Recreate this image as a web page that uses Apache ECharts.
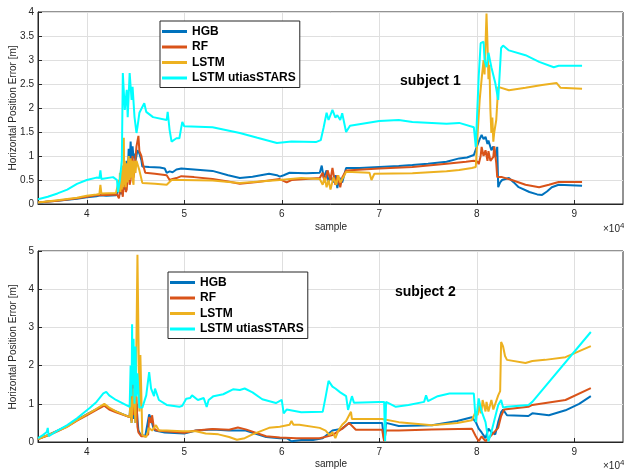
<!DOCTYPE html>
<html><head><meta charset="utf-8">
<script src="https://cdn.jsdelivr.net/npm/echarts@6/dist/echarts.min.js"></script>
<style>html,body{margin:0;padding:0;background:#fff}#c{width:624px;height:472px}</style>
</head><body><div id="c"></div>
<script>
// x in units of 10^4 samples
const seriesNames = ['HGB', 'RF', 'LSTM', 'LSTM utiasSTARS'];
const seriesColors = ['#0072BD', '#D95319', '#EDB120', '#00FFFF'];
const xTickValues = [4, 5, 6, 7, 8, 9];
const yTicksTop = [0, 0.5, 1, 1.5, 2, 2.5, 3, 3.5, 4];
const yTicksBottom = [0, 1, 2, 3, 4, 5];
const panelTitles = ['subject 1', 'subject 2'];

// ---- subject 1 ----
const s1HGB = [[3.5,0.02],[3.6,0.05],[3.7,0.07],[3.8,0.09],[3.9,0.11],[4.0,0.14],[4.1,0.16],[4.14,0.18],[4.2,0.17],[4.3,0.18],[4.32,0.15],[4.34,0.35],[4.35,0.2],[4.36,0.45],[4.37,0.25],[4.38,0.6],[4.39,0.3],[4.40,0.7],[4.405,0.4],[4.41,0.9],[4.42,0.55],[4.43,1.15],[4.44,0.8],[4.45,1.3],[4.46,0.9],[4.47,1.2],[4.48,0.95],[4.49,1.05],[4.50,0.9],[4.52,1.12],[4.54,1.05],[4.56,0.92],[4.57,0.78],[4.64,0.77],[4.75,0.76],[4.80,0.74],[4.82,0.65],[4.85,0.68],[4.88,0.66],[4.92,0.72],[4.97,0.74],[5.1,0.72],[5.29,0.69],[5.45,0.6],[5.57,0.54],[5.7,0.57],[5.87,0.63],[5.95,0.6],[5.98,0.57],[6.02,0.6],[6.08,0.65],[6.25,0.64],[6.39,0.65],[6.41,0.8],[6.43,0.55],[6.46,0.7],[6.48,0.45],[6.5,0.6],[6.53,0.45],[6.55,0.6],[6.57,0.33],[6.59,0.55],[6.62,0.45],[6.64,0.6],[6.66,0.75],[6.8,0.75],[7.0,0.77],[7.2,0.79],[7.34,0.81],[7.5,0.84],[7.69,0.88],[7.82,0.95],[7.9,0.97],[7.97,1.02],[8.0,1.19],[8.03,1.35],[8.05,1.44],[8.07,1.35],[8.09,1.40],[8.11,1.25],[8.12,1.32],[8.15,1.12],[8.17,1.2],[8.19,0.98],[8.21,1.19],[8.22,0.35],[8.24,0.45],[8.26,0.5],[8.33,0.54],[8.38,0.45],[8.43,0.35],[8.54,0.25],[8.62,0.2],[8.67,0.19],[8.72,0.26],[8.77,0.35],[8.84,0.40],[9.08,0.38]];
const s1RF = [[3.5,0.03],[3.7,0.07],[3.9,0.12],[4.0,0.15],[4.1,0.18],[4.2,0.19],[4.31,0.2],[4.33,0.12],[4.35,0.4],[4.37,0.15],[4.38,0.5],[4.39,0.7],[4.40,0.25],[4.41,0.3],[4.42,0.6],[4.43,0.9],[4.44,0.4],[4.45,0.5],[4.46,0.85],[4.47,1.0],[4.48,0.55],[4.49,0.7],[4.51,1.2],[4.53,1.42],[4.54,1.1],[4.56,1.0],[4.58,0.8],[4.6,0.65],[4.7,0.63],[4.82,0.6],[4.85,0.5],[4.88,0.52],[4.92,0.54],[4.97,0.58],[5.1,0.56],[5.29,0.52],[5.45,0.47],[5.57,0.42],[5.75,0.46],[5.98,0.52],[6.05,0.45],[6.1,0.5],[6.39,0.54],[6.42,0.65],[6.44,0.45],[6.47,0.7],[6.5,0.5],[6.52,0.75],[6.55,0.4],[6.57,0.6],[6.6,0.35],[6.62,0.55],[6.66,0.7],[7.0,0.74],[7.34,0.77],[7.69,0.84],[7.89,0.88],[7.97,0.9],[8.01,0.88],[8.02,0.83],[8.04,1.0],[8.05,1.19],[8.07,1.0],[8.09,1.12],[8.11,0.9],[8.12,1.1],[8.14,0.9],[8.17,0.98],[8.18,1.2],[8.2,0.85],[8.21,0.56],[8.26,0.56],[8.36,0.5],[8.5,0.4],[8.64,0.35],[8.74,0.4],[8.84,0.46],[9.08,0.46]];
const s1LSTM = [[3.5,0.03],[3.7,0.08],[3.9,0.13],[4.0,0.17],[4.1,0.2],[4.13,0.21],[4.14,0.4],[4.15,0.22],[4.3,0.23],[4.32,0.2],[4.33,0.5],[4.335,0.3],[4.34,0.65],[4.345,0.25],[4.35,0.7],[4.355,0.4],[4.36,0.3],[4.365,0.75],[4.37,0.8],[4.375,0.35],[4.38,1.38],[4.385,0.4],[4.39,0.9],[4.395,0.55],[4.40,0.35],[4.405,0.75],[4.41,0.85],[4.415,0.5],[4.42,0.45],[4.425,0.9],[4.43,1.0],[4.435,0.6],[4.44,0.5],[4.445,0.8],[4.45,0.95],[4.455,0.55],[4.46,0.6],[4.465,0.9],[4.47,0.85],[4.475,0.45],[4.48,0.4],[4.485,0.8],[4.49,0.9],[4.5,0.65],[4.51,0.9],[4.54,0.7],[4.57,0.44],[4.7,0.42],[4.82,0.4],[4.87,0.5],[4.97,0.5],[5.29,0.49],[5.57,0.44],[5.98,0.5],[6.2,0.54],[6.39,0.52],[6.42,0.4],[6.44,0.55],[6.46,0.35],[6.48,0.5],[6.5,0.3],[6.53,0.55],[6.56,0.4],[6.58,0.6],[6.6,0.45],[6.63,0.55],[6.66,0.67],[6.9,0.65],[6.92,0.5],[6.95,0.63],[7.34,0.64],[7.69,0.68],[7.82,0.71],[7.95,0.75],[7.99,0.77],[8.01,1.5],[8.03,2.17],[8.05,2.6],[8.07,3.0],[8.08,2.7],[8.1,3.97],[8.11,3.35],[8.12,2.6],[8.13,2.9],[8.14,1.96],[8.15,1.48],[8.16,1.8],[8.17,1.3],[8.18,1.5],[8.2,1.75],[8.22,2.44],[8.24,2.42],[8.33,2.37],[8.5,2.42],[8.67,2.48],[8.82,2.52],[8.86,2.42],[9.08,2.4]];
const s1STARS = [[3.5,0.1],[3.6,0.15],[3.7,0.22],[3.8,0.3],[3.9,0.42],[4.0,0.5],[4.1,0.55],[4.13,0.54],[4.14,0.7],[4.15,0.52],[4.27,0.56],[4.31,0.5],[4.32,0.25],[4.34,0.5],[4.36,0.92],[4.37,2.73],[4.39,1.96],[4.41,2.38],[4.42,1.81],[4.44,2.73],[4.46,2.17],[4.47,2.44],[4.49,1.81],[4.51,1.48],[4.52,1.6],[4.54,1.9],[4.57,2.02],[4.59,2.1],[4.61,1.92],[4.68,1.81],[4.82,1.75],[4.83,1.92],[4.85,1.54],[4.87,1.3],[4.92,1.37],[4.95,1.37],[4.97,1.6],[4.98,1.71],[5.0,1.62],[5.29,1.6],[5.57,1.48],[5.75,1.38],[5.95,1.27],[6.1,1.3],[6.35,1.29],[6.4,1.33],[6.43,1.6],[6.46,1.9],[6.48,1.75],[6.52,1.96],[6.55,1.8],[6.57,1.85],[6.6,1.75],[6.62,1.89],[6.66,1.5],[6.7,1.63],[7.0,1.73],[7.2,1.75],[7.34,1.71],[7.69,1.67],[7.82,1.69],[7.97,1.6],[7.99,1.19],[8.02,2.65],[8.04,3.35],[8.07,3.38],[8.08,3.0],[8.1,2.85],[8.12,3.15],[8.15,2.85],[8.19,2.52],[8.22,2.17],[8.25,3.25],[8.27,3.3],[8.33,3.2],[8.5,3.1],[8.64,2.96],[8.79,2.85],[8.84,2.88],[9.08,2.88]];

// ---- subject 2 ----
const s2HGB = [[3.5,0.08],[3.6,0.18],[3.7,0.3],[3.8,0.42],[3.9,0.58],[4.0,0.72],[4.1,0.86],[4.18,0.97],[4.2,0.95],[4.23,0.87],[4.3,0.8],[4.44,0.65],[4.45,1.2],[4.46,0.5],[4.47,1.8],[4.48,0.6],[4.49,1.4],[4.5,0.5],[4.51,1.0],[4.52,0.6],[4.53,0.3],[4.55,0.2],[4.57,0.15],[4.6,0.15],[4.62,0.2],[4.64,0.72],[4.66,0.6],[4.68,0.4],[4.7,0.3],[4.8,0.25],[5.0,0.22],[5.12,0.3],[5.29,0.33],[5.46,0.3],[5.63,0.3],[5.84,0.13],[5.98,0.1],[6.05,0.1],[6.1,0.02],[6.2,0.05],[6.32,0.05],[6.42,0.1],[6.52,0.3],[6.62,0.35],[6.69,0.5],[6.76,0.5],[7.03,0.5],[7.05,0.05],[7.07,0.5],[7.2,0.42],[7.54,0.44],[7.8,0.55],[7.95,0.65],[7.99,0.52],[8.02,0.35],[8.05,0.25],[8.09,0.1],[8.12,0.35],[8.15,0.26],[8.19,0.2],[8.22,0.52],[8.25,0.78],[8.27,0.85],[8.31,0.7],[8.53,0.68],[8.57,0.75],[8.74,0.7],[8.91,0.83],[9.05,1.0],[9.17,1.2]];
const s2RF = [[3.5,0.08],[3.6,0.17],[3.7,0.28],[3.8,0.4],[3.9,0.56],[4.0,0.7],[4.1,0.84],[4.18,0.95],[4.2,0.93],[4.23,0.85],[4.3,0.78],[4.44,0.65],[4.45,1.0],[4.46,0.55],[4.47,1.9],[4.48,0.7],[4.49,1.5],[4.5,0.6],[4.51,1.2],[4.52,0.4],[4.53,0.25],[4.56,0.15],[4.6,0.15],[4.63,0.2],[4.64,0.65],[4.66,0.5],[4.67,0.7],[4.69,0.35],[4.72,0.3],[4.8,0.28],[5.0,0.24],[5.12,0.3],[5.29,0.34],[5.46,0.32],[5.55,0.38],[5.63,0.33],[5.84,0.15],[5.98,0.12],[6.15,0.1],[6.3,0.1],[6.39,0.1],[6.52,0.18],[6.62,0.35],[6.69,0.5],[6.76,0.32],[7.03,0.32],[7.05,0.02],[7.07,0.3],[7.2,0.3],[7.54,0.33],[7.95,0.35],[7.99,0.15],[8.02,0.02],[8.05,0.15],[8.09,0.02],[8.14,0.15],[8.22,0.37],[8.25,0.68],[8.28,0.85],[8.53,0.92],[8.57,0.97],[8.91,1.1],[9.17,1.41]];
const s2LSTM = [[3.5,0.08],[3.6,0.18],[3.7,0.29],[3.8,0.4],[3.9,0.57],[4.0,0.72],[4.1,0.87],[4.18,1.0],[4.2,1.02],[4.23,0.9],[4.3,0.8],[4.44,0.65],[4.45,1.25],[4.46,0.5],[4.48,1.4],[4.5,0.5],[4.52,4.9],[4.53,4.9],[4.54,0.8],[4.55,2.28],[4.57,0.18],[4.61,0.13],[4.64,0.37],[4.67,0.3],[4.71,0.44],[4.74,0.3],[4.82,0.3],[4.98,0.28],[5.12,0.28],[5.22,0.22],[5.35,0.2],[5.46,0.13],[5.54,0.06],[5.62,0.1],[5.7,0.2],[5.87,0.37],[5.98,0.4],[6.08,0.45],[6.1,0.55],[6.12,0.45],[6.18,0.45],[6.39,0.37],[6.45,0.3],[6.49,0.18],[6.52,0.26],[6.55,0.1],[6.58,0.3],[6.62,0.45],[6.66,0.55],[6.71,0.79],[6.72,0.6],[6.86,0.6],[7.03,0.6],[7.2,0.52],[7.54,0.44],[7.8,0.5],[7.95,0.57],[7.99,0.8],[8.01,0.7],[8.02,1.0],[8.03,0.96],[8.04,0.75],[8.05,0.85],[8.06,1.1],[8.07,1.14],[8.08,0.9],[8.09,0.8],[8.1,1.05],[8.11,1.0],[8.12,0.8],[8.13,0.85],[8.15,1.1],[8.16,1.05],[8.17,0.85],[8.19,0.9],[8.22,1.22],[8.24,1.33],[8.25,2.62],[8.27,2.5],[8.29,2.25],[8.31,2.15],[8.5,2.07],[8.57,2.12],[8.7,2.15],[8.91,2.22],[9.17,2.51]];
const s2STARS = [[3.5,0.1],[3.55,0.18],[3.59,0.26],[3.6,0.37],[3.61,0.15],[3.7,0.3],[3.8,0.44],[3.9,0.62],[4.03,0.89],[4.1,1.05],[4.17,1.27],[4.2,1.31],[4.23,1.22],[4.3,1.1],[4.44,0.92],[4.45,2.0],[4.46,1.2],[4.465,3.08],[4.47,1.5],[4.48,2.7],[4.49,1.0],[4.5,2.5],[4.51,1.2],[4.52,1.8],[4.54,0.9],[4.57,0.9],[4.61,1.22],[4.64,1.83],[4.66,1.4],[4.69,1.2],[4.7,1.4],[4.72,1.25],[4.74,1.1],[4.82,0.97],[4.95,0.92],[4.98,0.95],[5.02,1.13],[5.06,1.15],[5.08,1.22],[5.14,1.1],[5.2,1.15],[5.23,0.92],[5.25,1.1],[5.3,1.2],[5.4,1.25],[5.5,1.38],[5.57,1.36],[5.62,1.4],[5.7,1.3],[5.8,1.12],[5.94,1.02],[6.0,1.1],[6.02,0.75],[6.05,0.85],[6.07,0.8],[6.2,0.78],[6.42,0.79],[6.45,1.18],[6.48,1.6],[6.52,1.45],[6.55,1.4],[6.6,1.3],[6.66,1.2],[6.68,0.84],[6.72,1.2],[6.74,1.03],[7.0,1.05],[7.05,1.05],[7.06,0.02],[7.07,1.05],[7.17,0.92],[7.3,0.97],[7.46,1.05],[7.48,1.22],[7.5,1.07],[7.6,1.2],[7.72,1.27],[7.97,1.27],[7.99,0.52],[8.02,1.14],[8.05,0.8],[8.09,0.52],[8.12,0.02],[8.15,0.26],[8.22,0.97],[8.25,1.1],[8.27,0.9],[8.31,0.92],[8.53,0.97],[8.57,1.05],[9.17,2.88]];

const panels = [
  { data: [s1HGB, s1RF, s1LSTM, s1STARS], yTicks: yTicksTop },
  { data: [s2HGB, s2RF, s2LSTM, s2STARS], yTicks: yTicksBottom }
];

const AX = '#262626', GRIDC = '#dfdfdf', FONT = 'Liberation Sans, Arial, Helvetica, sans-serif';
const grids = [
  { left: 38, top: 12, width: 585, height: 192 },
  { left: 38, top: 251, width: 585, height: 191 }
];
const xTicksSamples = xTickValues.map(v => v * 1e4);

const option = {
  animation: false,
  backgroundColor: '#fff',
  grid: grids.map(g => Object.assign({ show: true, borderColor: AX, borderWidth: 1, backgroundColor: '#fff' }, g)),
  xAxis: [],
  yAxis: [],
  legend: [],
  series: [],
  graphic: []
};

panels.forEach((p, i) => {
  option.xAxis.push({
    type: 'value', gridIndex: i, min: 35000, max: 95000,
    axisLine: { show: true, onZero: false, lineStyle: { color: AX, width: 1 } },
    axisTick: { show: true, inside: true, length: 4, customValues: xTicksSamples, lineStyle: { color: AX } },
    axisLabel: { customValues: xTicksSamples, formatter: v => String(Math.round(v / 1e4)), color: AX, fontSize: 10, fontFamily: FONT, margin: 5 },
    splitLine: { show: true, lineStyle: { color: GRIDC, width: 1 } }
  });
  const yt = p.yTicks;
  option.yAxis.push({
    type: 'value', gridIndex: i, min: yt[0], max: yt[yt.length - 1], interval: yt[1] - yt[0],
    axisLine: { show: true, lineStyle: { color: AX, width: 1 } },
    axisTick: { show: true, inside: true, length: 4, lineStyle: { color: AX } },
    axisLabel: { color: AX, fontSize: 10, fontFamily: FONT, margin: 4, formatter: v => String(v) },
    splitLine: { show: true, lineStyle: { color: GRIDC, width: 1 } }
  });
  p.data.forEach((arr, k) => {
    option.series.push({
      name: seriesNames[k], type: 'line', xAxisIndex: i, yAxisIndex: i,
      data: arr.map(([x, y]) => [x * 1e4, y]),
      symbol: 'none', showSymbol: false,
      lineStyle: { color: seriesColors[k], width: 2 },
      itemStyle: { color: seriesColors[k] },
      z: 2 + k
    });
  });
});

const legendPos = [{ left: 160, top: 21 }, { left: 168, top: 272 }];
legendPos.forEach((pos, i) => {
  option.legend.push(Object.assign({
    orient: 'vertical',
    data: seriesNames.map(n => ({ name: n, icon: 'rect' })),
    itemWidth: 25, itemHeight: 3, itemGap: 0.5,
    padding: [3, 4, 2, 2],
    backgroundColor: '#fff', borderColor: AX, borderWidth: 1,
    textStyle: { fontSize: 12, fontWeight: 'bold', color: '#000', fontFamily: FONT, lineHeight: 15 },
    selectedMode: false
  }, pos));
});

// titles inside panels
const titlePos = [[400, 81], [395, 292]];
titlePos.forEach((tp, i) => {
  option.graphic.push({ type: 'text', x: tp[0], y: tp[1], z: 100,
    style: { text: panelTitles[i], fontSize: 14, fontWeight: 'bold', fontFamily: FONT, fill: '#000', verticalAlign: 'middle', align: 'left' } });
});
// axis names
[[227, 108], [464, 347]].forEach((c, i) => {
  option.graphic.push({ type: 'text', x: 331, y: c[0], z: 100,
    style: { text: 'sample', fontSize: 10, fontFamily: FONT, fill: AX, align: 'center', verticalAlign: 'middle' } });
  option.graphic.push({ type: 'text', x: 13, y: c[1], rotation: Math.PI / 2, z: 100,
    style: { text: 'Horizontal Position Error [m]', fontSize: 10, fontFamily: FONT, fill: AX, align: 'center', verticalAlign: 'middle' } });
  option.graphic.push({ type: 'text', x: 603, y: c[0] + 2, z: 100,
    style: { text: '×10{s|4}', fontSize: 10, fontFamily: FONT, fill: AX, verticalAlign: 'middle',
      rich: { s: { fontSize: 8, fontFamily: FONT, fill: AX, padding: [0, 0, 7, 0] } } } });
});

const chart = echarts.init(document.getElementById('c'), null, { renderer: 'canvas' });
chart.setOption(option);
</script>
</body></html>
